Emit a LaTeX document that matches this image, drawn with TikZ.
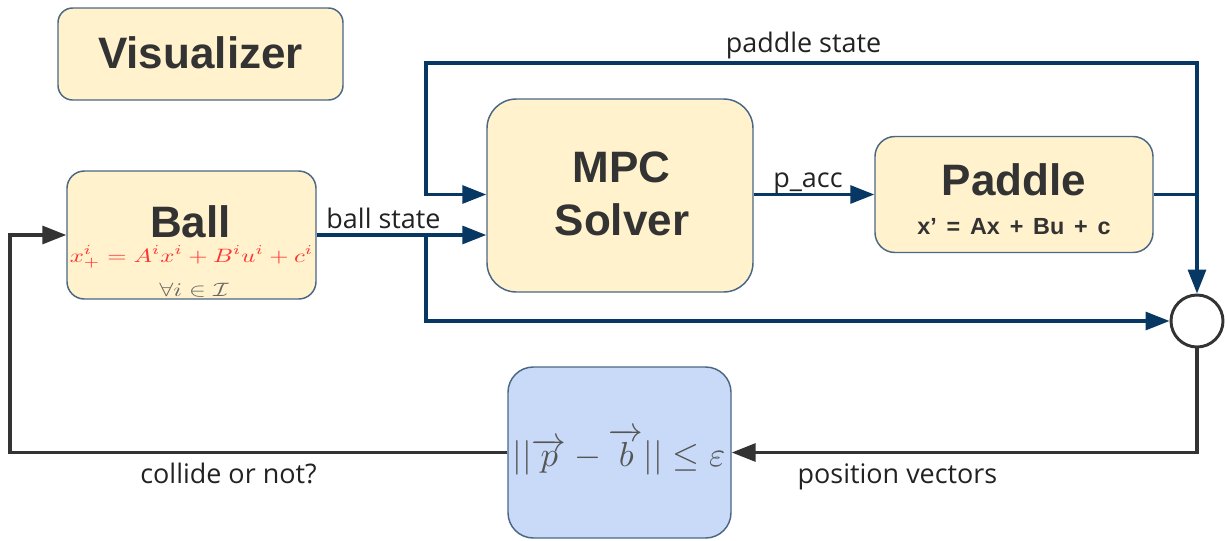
\documentclass[tikz,border=0pt]{standalone}
\usepackage{amsmath}
\usepackage{graphicx}
\usepackage{fontspec}
\setmainfont{Liberation Sans}
\newfontfamily\lblfont{Open Sans}
\usetikzlibrary{arrows.meta}
\definecolor{yfill}{HTML}{FFF2CC}
\definecolor{bfill}{HTML}{C9DAF8}
\definecolor{edgec}{HTML}{4A6785}
\definecolor{dblue}{HTML}{073763}
\definecolor{dgray}{HTML}{333333}
\definecolor{txtc}{HTML}{333333}
\definecolor{lblc}{HTML}{222222}
\definecolor{redf}{HTML}{FF3333}
\definecolor{grayf}{HTML}{666666}
\definecolor{bform}{HTML}{555555}
\tikzset{
  ybox/.style={draw=edgec, line width=1.1pt, fill=yfill, inner sep=0pt},
  bbox/.style={draw=edgec, line width=1.1pt, fill=bfill, inner sep=0pt},
  ttl/.style={text=txtc, font=\bfseries\fontsize{33}{37}\selectfont, inner sep=0pt, anchor=base},
  lbl/.style={text=lblc, font=\lblfont\fontsize{20.2}{23}\selectfont, inner sep=0pt, anchor=base},
  tip/.style={-{Triangle[length=18pt,width=13.5pt]}},
  bline/.style={draw=dblue, line width=2.4pt},
  gline/.style={draw=dgray, line width=2.4pt},
}
\begin{document}
\begin{tikzpicture}[x=0.75pt,y=-0.75pt]
\useasboundingbox (0,0) rectangle (1225,540);
% boxes
\node[ybox, rounded corners=11pt, minimum width=213.75pt, minimum height=69pt] (vis) at (200.5,54) {};
\node[ttl] (visT) at (200.5,68) {Visualizer};
\node[ybox, rounded corners=13pt, minimum width=186.75pt, minimum height=96pt] (ball) at (191.5,235) {};
\node[ttl] (ballT) at (190.5,237) {Ball};
\node[inner sep=0pt, anchor=base, text=redf] (ballEq) at (191.5,262)
  {\scalebox{1.86}[1.45]{$x^i_+ = A^i x^i + B^i u^i + c^i$}};
\node[inner sep=0pt, anchor=base, text=grayf] (ballAll) at (194,296)
  {\scalebox{1.9}[1.45]{$\forall i \in \mathcal{I}$}};
\node[ybox, rounded corners=22pt, minimum width=199.5pt, minimum height=144.75pt] (mpc) at (620,195.5) {};
\node[ttl] (mpcT1) at (621.5,182) {MPC};
\node[ttl] (mpcT2) at (622,235) {Solver};
\node[ybox, rounded corners=15pt, minimum width=208.5pt, minimum height=87pt] (pad) at (1014,194.5) {};
\node[ttl] (padT) at (1014,195) {Paddle};
\node[text=txtc, font=\bfseries\fontsize{17.5}{20}\selectfont, inner sep=0pt, anchor=base] (padEq) at (1014,234) {\spaceskip=0.42em x’ = Ax + Bu + c};
\node[circle, draw=dgray, line width=2.2pt, fill=white, minimum size=39pt, inner sep=0pt] (circ) at (1197,321) {};
\node[bbox, rounded corners=19pt, minimum width=167.25pt, minimum height=128.25pt] (chk) at (619.5,452.5) {};
\node[inner sep=0pt, anchor=base, text=bform] (chkEq) at (619,466)
  {\scalebox{2.6}{$||\overrightarrow{p} - \overrightarrow{b}|| \leq \varepsilon$}};
% coordinates
\coordinate (j1) at (426,235);
\coordinate (tr) at (1197,63);
\coordinate (tl) at (426,63);
\coordinate (lc) at (10,300);
% connectors
\draw[bline, tip] (ball.east) -- (mpc.west |- ball.east);
\draw[bline, tip] (j1) |- (circ.west);
\draw[bline, tip] (pad.east) -| (tr) -- (tl) |- (mpc.west |- pad.east);
\draw[bline, tip] (circ.north |- pad.east) -- (circ.north);
\draw[bline, tip] (mpc.east |- pad.east) -- (pad.west);
\draw[gline, tip] (circ.south) |- (chk.east);
\draw[gline, tip] (chk.west) -| (lc) |- (ball.west);
% labels
\node[lbl] (lPad) at (803.5,52) {paddle state};
\node[lbl] (lBall) at (383.5,228) {ball state};
\node[lbl] (lAcc) at (808,187) {p\_acc};
\node[lbl] (lPos) at (897.5,483) {position vectors};
\node[lbl] (lCol) at (228.5,483) {collide or not?};
\end{tikzpicture}
\end{document}
